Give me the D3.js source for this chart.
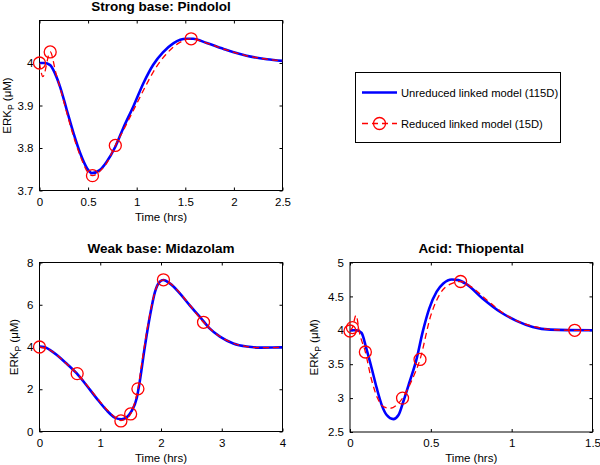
<!DOCTYPE html>
<html><head><meta charset="utf-8">
<script src="https://cdn.jsdelivr.net/npm/d3@7"></script>
<style>
body{margin:0;background:#fff;}
text{font-family:"Liberation Sans",Arial,Helvetica,sans-serif;fill:#000;}
</style></head>
<body>
<svg id="c" width="600" height="465"></svg>
<script>
// ---- data ----
const titles = ["Strong base: Pindolol", "Weak base: Midazolam", "Acid: Thiopental"];
const xDomains = [[0, 2.5], [0, 4], [0, 1.5]];
const yDomains = [[3.7, 4.1], [0, 8], [2.5, 5]];
const xTicks = [[0, 0.5, 1, 1.5, 2, 2.5], [0, 1, 2, 3, 4], [0, 0.5, 1, 1.5]];
const yTicks = [[3.7, 3.8, 3.9, 4], [0, 2, 4, 6, 8], [2.5, 3, 3.5, 4, 4.5, 5]];
const legendLabels = ["Unreduced linked model (115D)", "Reduced linked model (15D)"];

// Pindolol
const pindololFullT = [0,0.05,0.11,0.16,0.21,0.28,0.35,0.42,0.49,0.54,0.62,0.69,0.78,0.86,0.97,1.07,1.17,1.27,1.38,1.51,1.58,1.72,1.92,2.13,2.34,2.5];
const pindololFullY = [4.0,4.0,3.995,3.975,3.945,3.89,3.835,3.787,3.752,3.741,3.748,3.767,3.803,3.846,3.90,3.953,3.996,4.025,4.047,4.057,4.057,4.047,4.031,4.017,4.009,4.005];
const pindololRedT = [0,0.035,0.11,0.17,0.22,0.29,0.36,0.43,0.49,0.545,0.62,0.7,0.78,0.87,0.98,1.09,1.2,1.3,1.42,1.56,1.72,1.92,2.13,2.34,2.5];
const pindololRedY = [4.0,3.968,4.026,3.975,3.935,3.875,3.82,3.775,3.745,3.735,3.745,3.768,3.806,3.845,3.895,3.945,3.99,4.02,4.045,4.057,4.047,4.031,4.017,4.009,4.005];
const pindololMarkT = [0,0.11,0.545,0.78,1.56];
const pindololMarkY = [4.0,4.026,3.735,3.806,4.057];

// Midazolam
const midazolamFullT = [0,0.08,0.17,0.44,0.61,0.77,0.94,1.1,1.24,1.35,1.43,1.51,1.6,1.65,1.73,1.82,1.9,1.98,2.04,2.15,2.31,2.47,2.64,2.8,2.97,3.19,3.41,3.63,4.0];
const midazolamFullY = [4.02,4.0,3.86,3.23,2.76,2.2,1.57,1.02,0.66,0.58,0.66,0.94,1.57,2.36,3.94,5.5,6.6,7.09,7.17,7.0,6.54,5.98,5.43,4.88,4.49,4.17,4.02,3.97,3.98];
const midazolamRedT = [0,0.17,0.44,0.62,0.8,1.0,1.15,1.25,1.34,1.42,1.5,1.56,1.62,1.7,1.8,1.9,1.98,2.04,2.15,2.31,2.47,2.7,2.97,3.19,3.41,3.63,4.0];
const midazolamRedY = [4.0,3.86,3.22,2.74,2.12,1.4,0.92,0.66,0.52,0.6,0.83,1.3,2.02,3.55,5.3,6.6,7.1,7.18,7.02,6.56,6.0,5.17,4.5,4.18,4.02,3.97,3.98];
const midazolamMarkT = [0,0.62,1.34,1.5,1.62,2.04,2.7];
const midazolamMarkY = [4.0,2.74,0.5,0.83,2.02,7.18,5.17];

// Thiopental
const thiopentalFullT = [0,0.04,0.072,0.1,0.134,0.165,0.196,0.227,0.268,0.3,0.33,0.37,0.41,0.45,0.49,0.536,0.577,0.63,0.67,0.72,0.82,0.93,1.03,1.13,1.24,1.5];
const thiopentalFullY = [4.0,4.0,3.96,3.74,3.44,3.15,2.9,2.75,2.69,2.75,2.95,3.25,3.56,3.98,4.32,4.57,4.69,4.75,4.74,4.68,4.47,4.27,4.14,4.05,4.01,4.0];
const thiopentalRedT = [0,0.015,0.037,0.06,0.095,0.13,0.17,0.21,0.25,0.29,0.325,0.38,0.433,0.5,0.56,0.62,0.684,0.75,0.85,0.95,1.05,1.15,1.25,1.39,1.5];
const thiopentalRedY = [4.0,4.04,4.22,3.95,3.68,3.3,3.0,2.87,2.85,2.9,3.0,3.25,3.57,4.22,4.55,4.68,4.72,4.64,4.44,4.25,4.12,4.05,4.01,4.0,4.0];
const thiopentalMarkT = [0,0.015,0.095,0.325,0.433,0.684,1.39];
const thiopentalMarkY = [3.99,4.04,3.68,3.0,3.57,4.72,4.0];

const fullT = [pindololFullT, midazolamFullT, thiopentalFullT];
const fullY = [pindololFullY, midazolamFullY, thiopentalFullY];
const redT = [pindololRedT, midazolamRedT, thiopentalRedT];
const redY = [pindololRedY, midazolamRedY, thiopentalRedY];
const markT = [pindololMarkT, midazolamMarkT, thiopentalMarkT];
const markY = [pindololMarkY, midazolamMarkY, thiopentalMarkY];

// ---- layout ----
const boxes = [
  {x0: 39.5, x1: 282.5, y0: 20.5, y1: 190.5, yl: 29},
  {x0: 39.5, x1: 282.5, y0: 262.5, y1: 431.5, yl: 22},
  {x0: 350, x1: 592.5, y0: 262.5, y1: 432, yl: 32}
];
const BLUE = "#0000ff", RED = "#ff0000";
const svg = d3.select("#c");
const fmt = d => String(d);

boxes.forEach((b, i) => {
  const x = d3.scaleLinear().domain(xDomains[i]).range([b.x0, b.x1]);
  const y = d3.scaleLinear().domain(yDomains[i]).range([b.y1, b.y0]);
  const g = svg.append("g");

  const defsId = "clip" + i;
  svg.append("clipPath").attr("id", defsId).append("rect")
    .attr("x", b.x0).attr("y", b.y0 - 2).attr("width", b.x1 - b.x0).attr("height", b.y1 - b.y0 + 4);

  // axes with inward ticks
  const tick = 3;
  const ax = (gen, tr) => g.append("g").attr("transform", tr).call(gen);
  const bottom = ax(d3.axisBottom(x).tickValues(xTicks[i]).tickSizeInner(-tick).tickSizeOuter(0).tickPadding(7).tickFormat(fmt), `translate(0,${b.y1})`);
  const top = ax(d3.axisTop(x).tickValues(xTicks[i]).tickSizeInner(-tick).tickSizeOuter(0).tickFormat(""), `translate(0,${b.y0})`);
  const left = ax(d3.axisLeft(y).tickValues(yTicks[i]).tickSizeInner(-tick).tickSizeOuter(0).tickPadding(6).tickFormat(fmt), `translate(${b.x0},0)`);
  const right = ax(d3.axisRight(y).tickValues(yTicks[i]).tickSizeInner(-tick).tickSizeOuter(0).tickFormat(""), `translate(${b.x1},0)`);
  [bottom, top, left, right].forEach(a => {
    a.select(".domain").remove();
    a.selectAll("line").attr("stroke", "#000").attr("stroke-width", 1);
    a.selectAll("text").attr("font-size", 11.5).attr("font-family", '"Liberation Sans",Arial,sans-serif').attr("fill", "#000");
  });
  g.append("rect").attr("x", b.x0).attr("y", b.y0).attr("width", b.x1 - b.x0).attr("height", b.y1 - b.y0)
    .attr("fill", "none").attr("stroke", "#000").attr("stroke-width", 1);

  // title
  svg.append("text").attr("x", (b.x0 + b.x1) / 2).attr("y", b.y0 - 9.5).attr("text-anchor", "middle")
    .attr("font-size", 13.5).attr("font-weight", "bold").text(titles[i]);
  // x label
  svg.append("text").attr("x", (b.x0 + b.x1) / 2).attr("y", b.y1 + 30).attr("text-anchor", "middle")
    .attr("font-size", 11.5).text("Time (hrs)");
  // y label
  const yl = svg.append("text").attr("transform", `translate(${b.x0 - b.yl},${(b.y0 + b.y1) / 2}) rotate(-90)`)
    .attr("text-anchor", "middle").attr("font-size", 11.5);
  yl.append("tspan").text("ERK");
  yl.append("tspan").attr("font-size", 8.5).attr("dy", 3).text("P");
  yl.append("tspan").attr("dy", -3).text(" (\u03bcM)");

  const plot = svg.append("g").attr("clip-path", `url(#${defsId})`);
  const line = d3.line().x(d => x(d[0])).y(d => y(d[1])).curve(d3.curveMonotoneX);
  const fullData = fullT[i].map((t, k) => [t, fullY[i][k]]);
  const redData = redT[i].map((t, k) => [t, redY[i][k]]);
  plot.append("path").attr("d", line(fullData)).attr("fill", "none").attr("stroke", BLUE).attr("stroke-width", 2.6);
  plot.append("path").attr("d", line(redData)).attr("fill", "none").attr("stroke", RED).attr("stroke-width", 1.3)
    .attr("stroke-dasharray", "6,4");
  svg.append("g").selectAll("circle").data(markT[i].map((t, k) => [t, markY[i][k]])).join("circle")
    .attr("cx", d => x(d[0])).attr("cy", d => y(d[1])).attr("r", 6)
    .attr("fill", "none").attr("stroke", RED).attr("stroke-width", 1.3);
});

// legend
const lg = svg.append("g");
lg.append("rect").attr("x", 355.5).attr("y", 72.5).attr("width", 205).attr("height", 70)
  .attr("fill", "#fff").attr("stroke", "#000").attr("stroke-width", 1);
lg.append("line").attr("x1", 362).attr("x2", 397).attr("y1", 92.5).attr("y2", 92.5)
  .attr("stroke", BLUE).attr("stroke-width", 2.6);
lg.append("line").attr("x1", 362).attr("x2", 397).attr("y1", 123.5).attr("y2", 123.5)
  .attr("stroke", RED).attr("stroke-width", 1.3).attr("stroke-dasharray", "6,4");
lg.append("circle").attr("cx", 379.5).attr("cy", 123.5).attr("r", 6)
  .attr("fill", "none").attr("stroke", RED).attr("stroke-width", 1.3);
legendLabels.forEach((t, k) => {
  lg.append("text").attr("x", 401).attr("y", [92.5, 123.5][k] + 4).attr("font-size", 11.2).text(t);
});
</script>
</body></html>
